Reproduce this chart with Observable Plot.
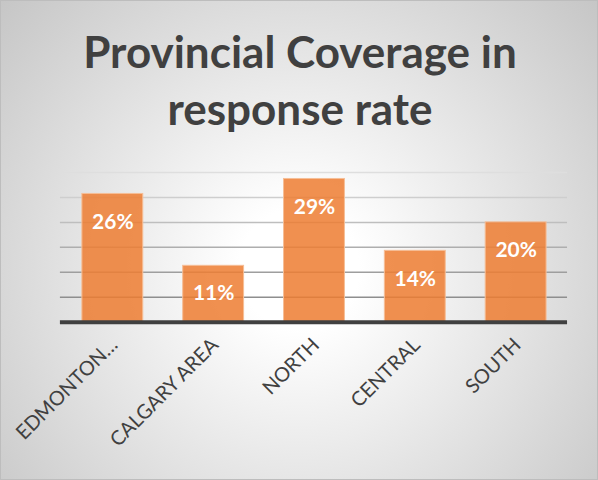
<!DOCTYPE html>
<html>
<head>
<meta charset="utf-8">
<script src="https://cdn.jsdelivr.net/npm/d3@7"></script>
<script src="https://cdn.jsdelivr.net/npm/@observablehq/plot@0.6"></script>
<style>
  html, body { margin: 0; padding: 0; background: #fff; }
  #chart {
    position: relative; width: 598px; height: 480px; box-sizing: border-box;
    border: 1px solid #bdbdbd; overflow: hidden;
    background: radial-gradient(circle farthest-corner at 50% 56%, #ffffff 0%, #ffffff 15%, #c6c6c6 100%);
    font-family: Lato, "Open Sans", sans-serif;
  }
  #title {
    position: absolute; left: 0; top: 22px; width: 598px; text-align: center;
    font-family: Lato, sans-serif; font-weight: 700; font-size: 44px; line-height: 57px;
    color: #404040;
  }
  #plot { position: absolute; left: -1px; top: 159px; }
</style>
</head>
<body>
<div id="chart">
  <div id="title">Provincial Coverage in<br>response rate</div>
  <div id="plot"></div>
</div>
<script>
const categories = ["EDMONTON…", "CALGARY AREA", "NORTH", "CENTRAL", "SOUTH"];
const values = [25.7, 11.3, 28.7, 14.3, 20.0];
const gridTicks = [5, 10, 15, 20, 25, 30];

const data = categories.map((c, i) => ({category: c, value: values[i]}));
const gridColor = d3.interpolateRgb("#8e8e8e", "#dedede");

const chart = Plot.plot({
  width: 598,
  height: 320,
  marginTop: 12,
  marginBottom: 158,
  marginLeft: 60,
  marginRight: 30,
  style: {background: "transparent", overflow: "visible", fontFamily: "Lato, sans-serif"},
  x: {domain: categories, paddingInner: 0.4, paddingOuter: 0.2, axis: null},
  y: {domain: [0, 30], axis: null},
  color: {type: "identity"},
  marks: [
    Plot.ruleY(gridTicks, {y: d => d, stroke: d => gridColor((d - 5) / 25), strokeWidth: 1.5}),
    Plot.barY(data, {x: "category", y: "value", fill: "#ED7D31", fillOpacity: 0.85, stroke: "#F6BE96", strokeWidth: 1}),
    Plot.ruleY([0], {stroke: "#404040", strokeWidth: 4}),
    Plot.text(data, {x: "category", y: "value", text: d => Math.round(d.value) + "%", dy: 28, fill: "white", fontSize: 21, fontWeight: "bold"}),
    Plot.text(data, {x: "category", frameAnchor: "bottom", text: "category", rotate: -45, textAnchor: "end", dx: 6, dy: 24, fontSize: 20, fill: "#404040"})
  ]
});
document.getElementById("plot").appendChild(chart);
</script>
</body>
</html>
